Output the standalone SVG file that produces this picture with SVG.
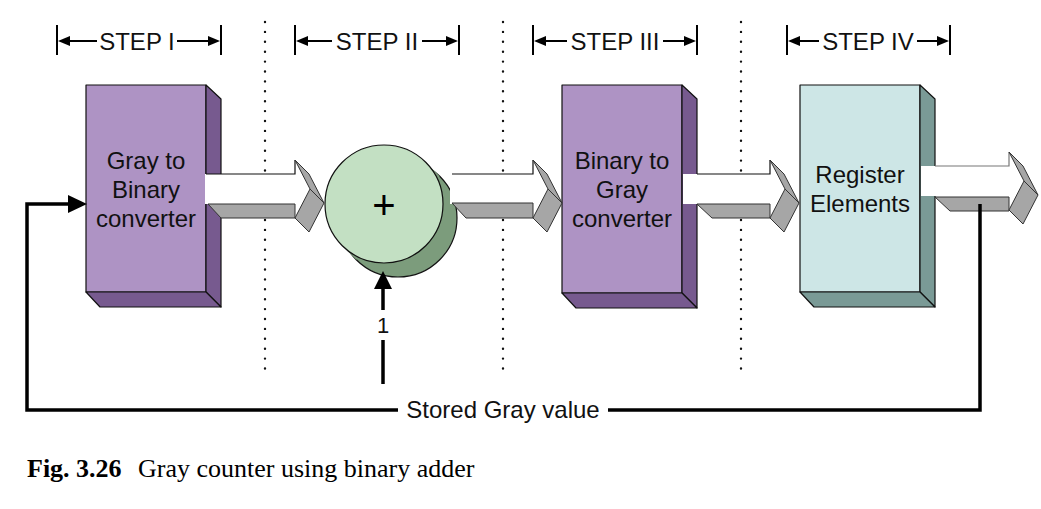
<svg xmlns="http://www.w3.org/2000/svg" width="1041" height="509" viewBox="0 0 1041 509">
<style>
.lbl{font-family:"Liberation Sans",Arial,sans-serif;font-size:24px;fill:#111;text-anchor:middle}
.ol{stroke:#111;stroke-width:1.2;stroke-linejoin:round}
.pf{fill:#ae93c4}.ps{fill:#775a8f}
.tf{fill:#cde6e6}.ts{fill:#7a9a96}
.gf{fill:#c3e0c3}.gs{fill:#7c9c7c}
.ar{fill:#a6a6a6;stroke:#333;stroke-width:1;stroke-linejoin:round}
.aw{fill:#fff;stroke:none}
.ao{fill:none;stroke:#111;stroke-width:1.2;stroke-linejoin:miter}
.dot{stroke:#111;stroke-width:2.4;stroke-linecap:round;stroke-dasharray:0 9.9;fill:none}
.thick{stroke:#000;stroke-width:3.5;fill:none}
.bar{stroke:#000;stroke-width:2;fill:none}
.cap{font-family:"Liberation Serif","Times New Roman",serif;font-size:26px;fill:#000}
</style>
<rect width="1041" height="509" fill="#fff"/>

<g id="dividers">
<line class="dot" x1="265" y1="22" x2="265" y2="375"/>
<line class="dot" x1="503" y1="22" x2="503" y2="375"/>
<line class="dot" x1="741" y1="22" x2="741" y2="375"/>
</g>

<g id="step-markers">
<g id="step1">
<line class="bar" x1="57" y1="25" x2="57" y2="55"/><line class="bar" x1="221" y1="25" x2="221" y2="55"/>
<line class="bar" x1="66" y1="41" x2="97" y2="41"/><polygon points="58,41 70,36 70,46" fill="#000"/>
<line class="bar" x1="177" y1="41" x2="210" y2="41"/><polygon points="220,41 208,36 208,46" fill="#000"/>
<text class="lbl" x="137" y="50">STEP I</text>
</g>
<g id="step2">
<line class="bar" x1="295" y1="25" x2="295" y2="55"/><line class="bar" x1="459" y1="25" x2="459" y2="55"/>
<line class="bar" x1="304" y1="41" x2="332" y2="41"/><polygon points="296,41 308,36 308,46" fill="#000"/>
<line class="bar" x1="422" y1="41" x2="448" y2="41"/><polygon points="458,41 446,36 446,46" fill="#000"/>
<text class="lbl" x="377" y="50">STEP II</text>
</g>
<g id="step3">
<line class="bar" x1="542" y1="41" x2="567" y2="41"/><polygon points="534,41 546,36 546,46" fill="#000"/>
<line class="bar" x1="533" y1="25" x2="533" y2="55"/><line class="bar" x1="697" y1="25" x2="697" y2="55"/>
<line class="bar" x1="663" y1="41" x2="686" y2="41"/><polygon points="696,41 684,36 684,46" fill="#000"/>
<text class="lbl" x="615" y="50">STEP III</text>
</g>
<g id="step4">
<line class="bar" x1="787" y1="25" x2="787" y2="55"/><line class="bar" x1="950" y1="25" x2="950" y2="55"/>
<line class="bar" x1="796" y1="41" x2="819" y2="41"/><polygon points="788,41 800,36 800,46" fill="#000"/>
<line class="bar" x1="917" y1="41" x2="939" y2="41"/><polygon points="949,41 937,36 937,46" fill="#000"/>
<text class="lbl" x="868" y="50">STEP IV</text>
</g>
</g>

<g id="node-gray-to-binary">
<rect class="pf ol" x="86" y="85" width="120" height="207"/>
<polygon class="ps ol" points="206,85 221,99 221,307 206,292"/>
<polygon class="ps ol" points="86,292 206,292 221,307 100,307"/>
<text class="lbl" x="146" y="169">Gray to</text>
<text class="lbl" x="146" y="198">Binary</text>
<text class="lbl" x="146" y="227">converter</text>
</g>

<g id="node-adder">
<circle class="gs ol" cx="398" cy="218" r="59"/>
<polygon class="gs" points="425.7,162.3 439.7,176.3 356.3,259.7 342.3,245.7"/>
<circle class="gf ol" cx="384" cy="204" r="59"/>
<text x="384" y="219" font-family="Liberation Sans,Arial,sans-serif" font-size="40" text-anchor="middle" fill="#000">+</text>
</g>

<g id="node-binary-to-gray">
<rect class="pf ol" x="562" y="85" width="120" height="208"/>
<polygon class="ps ol" points="682,85 697,99 697,308 682,293"/>
<polygon class="ps ol" points="562,293 682,293 697,308 576,308"/>
<text class="lbl" x="622" y="169">Binary to</text>
<text class="lbl" x="622" y="198">Gray</text>
<text class="lbl" x="622" y="227">converter</text>
</g>

<g id="node-register">
<rect class="tf ol" x="800" y="85" width="120" height="207"/>
<polygon class="ts ol" points="920,85 935,99 935,307 920,292"/>
<polygon class="ts ol" points="800,292 920,292 935,307 814,307"/>
<text class="lbl" x="860" y="183">Register</text>
<text class="lbl" x="860" y="212">Elements</text>
</g>

<g id="connectors">
<g id="arrow1">
<polygon class="aw" points="205,174 295,174 295,160 310,189 295,218 295,204 205,204"/>
<polygon class="ar" points="208,204 295,204 295,218 221,218"/>
<polyline class="ao" points="206,174 295,174 295,160"/>
<polygon class="ar" points="295,160 309,174 324,203 310,189"/>
<polygon class="ar" points="310,189 324,203 309,232 295,218"/>
</g>
<g id="arrow2">
<polygon class="aw" points="450,174 533,174 533,160 548,189 533,218 533,204 450,204"/>
<polygon class="ar" points="452,203 533,203 533,218 466,218"/>
<polyline class="ao" points="452,174 533,174 533,160"/>
<polygon class="ar" points="533,160 547,174 562,203 548,189"/>
<polygon class="ar" points="548,189 562,203 547,232 533,218"/>
</g>
<g id="arrow3">
<polygon class="aw" points="683,174 770,174 770,160 785,189 770,218 770,204 683,204"/>
<polygon class="ar" points="697,204 770,204 770,218 712,218"/>
<polyline class="ao" points="697,174 770,174 770,160"/>
<polygon class="ar" points="770,160 784,174 799,203 785,189"/>
<polygon class="ar" points="785,189 799,203 784,232 770,218"/>
</g>
<g id="arrow4">
<polygon class="aw" points="921,166 1009,166 1009,152 1024,181 1009,210 1009,196 921,196"/>
<polygon class="ar" points="935,197 1009,197 1009,211 950,211"/>
<polyline class="ao" points="935,166 1009,166 1009,152" style="stroke:#777"/>
<polygon class="ar" points="1009,152 1023,166 1038,195 1024,181"/>
<polygon class="ar" points="1024,181 1038,195 1023,224 1009,210"/>
</g>
<g id="feedback">
<polyline class="thick" points="980,204 980,410 608,410"/>
<polyline class="thick" points="398,410 27,410 27,204 70,204"/>
<polygon points="68,195 87,204 68,213" fill="#000"/>
<text class="lbl" x="503" y="418">Stored Gray value</text>
</g>
<g id="input-one">
<line class="thick" x1="383" y1="287" x2="383" y2="310"/>
<line class="thick" x1="383" y1="340" x2="383" y2="384"/>
<polygon points="374,289 383,271 392,289" fill="#000"/>
<text class="lbl" x="383" y="333" style="font-size:22px">1</text>
</g>
</g>

<g id="caption">
<text class="cap" x="27" y="477"><tspan font-weight="bold">Fig. 3.26</tspan><tspan x="138">Gray counter using binary adder</tspan></text>
</g>
</svg>
